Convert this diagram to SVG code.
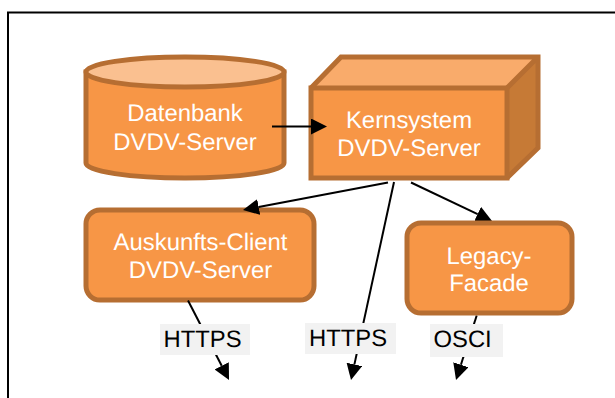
<svg xmlns="http://www.w3.org/2000/svg" width="615" height="398" viewBox="0 0 615 398">
<style>
.shape{fill:#F79646;stroke:#B66E32;stroke-width:5;stroke-linejoin:miter}
text{text-rendering:geometricPrecision}
.t{font-family:"Liberation Sans",Arial,sans-serif;font-size:23.9px;fill:#FFFFFF;text-anchor:middle}
.l{font-family:"Liberation Sans",Arial,sans-serif;font-size:23.8px;fill:#000000}
.b{fill:#F2F2F2}
.c{stroke:#000;stroke-width:2;fill:none;marker-end:url(#arrow)}
</style>
<defs>
<marker id="arrow" markerUnits="userSpaceOnUse" markerWidth="16" markerHeight="16" viewBox="0 -8 16 16" refX="0" refY="0" orient="auto"><path d="M0,-8 L16,0 L0,8 z" fill="#000"/></marker>
</defs>
<rect width="615" height="398" fill="#FFFFFF"/>
<path d="M8,398 V12.500 H615" fill="none" stroke="#000" stroke-width="2"/>
<g id="datenbank">
<path class="shape" d="M86,72 V163 C86,171.300 130,178 185,178 C240,178 284,171.300 284,163 V72 Z"/>
<ellipse cx="185" cy="72" rx="99" ry="15" fill="#FAC090" stroke="#B66E32" stroke-width="5"/>
<text class="t" x="185" y="121">Datenbank</text>
<text class="t" x="185" y="149.500">DVDV-Server</text>
</g>
<g id="kernsystem">
<path d="M311,88 L341,57 H538 L507,88 Z" fill="#F9AB6B"/>
<path d="M507,88 L538,57 V148 L507,178 Z" fill="#C67A36"/>
<path d="M311,88 L341,57 H538 V148 L507,178 M507,88 L538,57" fill="none" stroke="#B66E32" stroke-width="5"/>
<rect class="shape" x="311" y="88" width="196" height="90"/>
<text class="t" x="409" y="128">Kernsystem</text>
<text class="t" x="409" y="155.500">DVDV-Server</text>
</g>
<g id="auskunfts-client">
<rect class="shape" x="86" y="210" width="228" height="90" rx="14" ry="14"/>
<text class="t" x="200.500" y="249.500">Auskunfts-Client</text>
<text class="t" x="200.500" y="277.500">DVDV-Server</text>
</g>
<g id="connectors">
<line class="c" x1="272" y1="126.500" x2="311" y2="126.500"/>
<line class="c" x1="388" y1="182.500" x2="258.700" y2="207"/>
<line class="c" x1="394" y1="182" x2="354.400" y2="364.400"/>
<line class="c" x1="411" y1="182.500" x2="477.600" y2="214.100"/>
<line class="c" x1="188" y1="300.500" x2="221.700" y2="365.800"/>
<line class="c" x1="476.700" y1="315.500" x2="460.900" y2="364.800"/>
</g>
<g id="legacy-facade">
<rect class="shape" x="407" y="223" width="165" height="90" rx="14" ry="14"/>
<text class="t" x="489" y="263.500">Legacy-</text>
<text class="t" x="489" y="290.500">Facade</text>
</g>
<g id="label-https-1">
<rect class="b" x="160" y="324" width="90" height="31"/>
<text class="l" x="163.500" y="346.500">HTTPS</text>
</g>
<g id="label-https-2">
<rect class="b" x="305" y="323" width="91" height="31"/>
<text class="l" x="309" y="345.500">HTTPS</text>
</g>
<g id="label-osci">
<rect class="b" x="430" y="324" width="73" height="33"/>
<text class="l" x="433.500" y="346.500">OSCI</text>
</g>
</svg>
